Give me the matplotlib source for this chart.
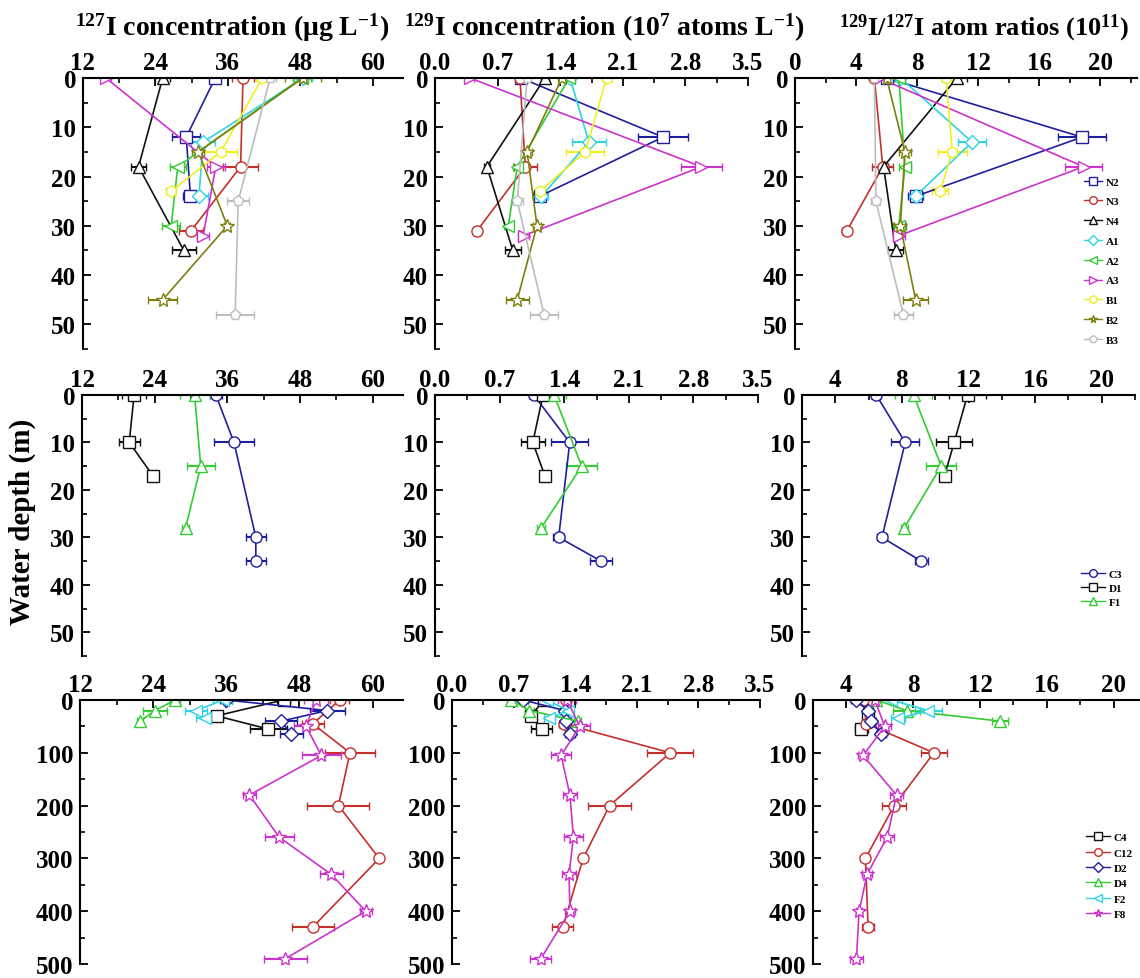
import matplotlib
matplotlib.use("Agg")
import matplotlib.pyplot as plt
from matplotlib.ticker import MultipleLocator
from matplotlib.lines import Line2D

plt.rcParams['font.family'] = 'Liberation Serif'
plt.rcParams['font.weight'] = 'bold'
plt.rcParams['mathtext.default'] = 'regular'

# ---- data ----
# each station: depth (m), 127I (ug/L), 129I (1e7 atoms/L), 129I/127I (1e11), with errors

# top row
N2_depth = [0, 12, 24]
N2_i127 = [33.9, 29.1, 29.8]
N2_i127_err = [0.8, 2.3, 1.3]
N2_i129 = [0.96, 2.55, 1.17]
N2_i129_err = [0.03, 0.28, 0.07]
N2_ratio = [6.0, 18.8, 7.9]
N2_ratio_err = [0.3, 1.6, 0.5]

N3_depth = [0, 18, 31]
N3_i127 = [38.5, 38.1, 29.9]
N3_i127_err = [1.9, 2.9, 2.0]
N3_i129 = [0.95, 1.01, 0.47]
N3_i129_err = [0.03, 0.13, 0.04]
N3_ratio = [5.2, 5.75, 3.4]
N3_ratio_err = [0.2, 0.7, 0.3]

N4_depth = [0, 18, 35]
N4_i127 = [25.2, 21.2, 28.7]
N4_i127_err = [1.2, 1.2, 2.0]
N4_i129 = [1.23, 0.58, 0.87]
N4_i129_err = [0.05, 0.03, 0.09]
N4_ratio = [10.6, 5.8, 6.6]
N4_ratio_err = [0.65, 0.3, 0.5]

A1_depth = [0, 13, 24]
A1_i127 = [48.5, 31.9, 31.2]
A1_i127_err = [1.5, 2.0, 1.5]
A1_i129 = [1.51, 1.72, 1.19]
A1_i129_err = [0.05, 0.19, 0.07]
A1_ratio = [6.9, 11.6, 7.9]
A1_ratio_err = [0.3, 0.9, 0.4]

A2_depth = [0, 18, 30]
A2_i127 = [48.2, 27.7, 26.6]
A2_i127_err = [1.5, 1.3, 1.5]
A2_i129 = [1.50, 0.92, 0.82]
A2_i129_err = [0.05, 0.05, 0.05]
A2_ratio = [6.8, 7.2, 6.8]
A2_ratio_err = [0.3, 0.4, 0.4]

A3_depth = [0, 18, 32]
A3_i127 = [15.8, 34.0, 31.9]
A3_i127_err = [0.8, 1.5, 1.0]
A3_i129 = [0.39, 2.98, 0.99]
A3_i129_err = [0.05, 0.23, 0.06]
A3_ratio = [5.5, 18.9, 6.8]
A3_ratio_err = [0.3, 1.2, 0.4]

B1_depth = [0, 15, 23]
B1_i127 = [41.7, 34.8, 26.6]
B1_i127_err = [1.0, 2.7, 0.8]
B1_i129 = [1.92, 1.68, 1.17]
B1_i129_err = [0.05, 0.21, 0.04]
B1_ratio = [9.9, 10.3, 9.5]
B1_ratio_err = [0.3, 0.96, 0.5]

B2_depth = [0, 15, 30, 45]
B2_i127 = [48.4, 31.1, 35.9, 25.2]
B2_i127_err = [3.0, 1.0, 0.5, 2.4]
B2_i129 = [1.42, 1.03, 1.14, 0.92]
B2_i129_err = [0.05, 0.05, 0.04, 0.13]
B2_ratio = [6.0, 7.2, 6.9, 7.9]
B2_ratio_err = [0.3, 0.4, 0.4, 0.8]

B3_depth = [0, 25, 48]
B3_i127 = [43.0, 37.7, 37.2]
B3_i127_err = [1.0, 1.8, 3.2]
B3_i129 = [1.03, 0.92, 1.22]
B3_i129_err = [0.03, 0.06, 0.16]
B3_ratio = [5.2, 5.3, 7.1]
B3_ratio_err = [0.2, 0.3, 0.6]

# middle row
C3_depth = [0, 10, 30, 35]
C3_i127 = [34.1, 37.1, 40.7, 40.7]
C3_i127_err = [1.0, 3.3, 1.6, 1.6]
C3_i129 = [1.07, 1.46, 1.34, 1.80]
C3_i129_err = [0.05, 0.20, 0.06, 0.12]
C3_ratio = [6.46, 8.2, 6.8, 9.16]
C3_ratio_err = [0.3, 0.84, 0.3, 0.4]

D1_depth = [0, 10, 17]
D1_i127 = [20.6, 19.8, 23.7]
D1_i127_err = [2.0, 1.7, 0.5]
D1_i129 = [1.17, 1.06, 1.19]
D1_i129_err = [0.05, 0.13, 0.04]
D1_ratio = [11.94, 11.14, 10.56]
D1_ratio_err = [1.1, 1.07, 0.3]

F1_depth = [0, 15, 28]
F1_i127 = [30.6, 31.6, 29.1]
F1_i127_err = [2.5, 2.3, 0.6]
F1_i129 = [1.29, 1.59, 1.15]
F1_i129_err = [0.13, 0.17, 0.04]
F1_ratio = [8.7, 10.36, 8.14]
F1_ratio_err = [1.09, 0.9, 0.2]

# bottom row
C4_depth = [0, 30, 55]
C4_i127 = [45.4, 34.4, 42.9]
C4_i127_err = [1.0, 1.0, 3.0]
C4_i129 = [1.04, 0.90, 1.02]
C4_i129_err = [0.05, 0.05, 0.12]
C4_ratio = [5.3, 5.3, 4.9]
C4_ratio_err = [0.3, 0.3, 0.4]

C12_depth = [0, 45, 100, 200, 300, 430]
C12_i127 = [54.6, 50.2, 56.3, 54.4, 61.1, 50.2]
C12_i127_err = [1.5, 1.8, 4.1, 5.1, 0.3, 3.4]
C12_i129 = [1.30, 1.27, 2.48, 1.79, 1.49, 1.26]
C12_i129_err = [0.05, 0.05, 0.26, 0.24, 0.04, 0.12]
C12_ratio = [5.0, 5.2, 9.24, 6.86, 5.14, 5.3]
C12_ratio_err = [0.2, 0.2, 0.8, 0.7, 0.1, 0.35]

D2_depth = [0, 20, 40, 65]
D2_i127 = [36.0, 52.6, 45.0, 46.7]
D2_i127_err = [1.0, 2.9, 2.6, 1.9]
D2_i129 = [0.81, 1.28, 1.30, 1.34]
D2_i129_err = [0.05, 0.05, 0.05, 0.06]
D2_ratio = [4.6, 5.3, 5.5, 6.1]
D2_ratio_err = [0.3, 0.3, 0.3, 0.3]

D4_depth = [0, 20, 40]
D4_i127 = [27.6, 24.3, 21.9]
D4_i127_err = [0.8, 2.0, 0.5]
D4_i129 = [0.67, 0.88, 1.43]
D4_i129_err = [0.05, 0.05, 0.04]
D4_ratio = [5.8, 7.6, 13.2]
D4_ratio_err = [0.3, 0.8, 0.5]

F2_depth = [0, 20, 35]
F2_i127 = [35.4, 31.1, 32.5]
F2_i127_err = [1.5, 1.8, 1.5]
F2_i129 = [1.08, 1.32, 1.10]
F2_i129_err = [0.06, 0.06, 0.06]
F2_ratio = [6.7, 8.9, 7.1]
F2_ratio_err = [0.6, 0.8, 0.4]

F8_depth = [0, 50, 105, 180, 260, 330, 400, 490]
F8_i127 = [50.7, 49.1, 51.6, 39.8, 44.7, 53.2, 58.9, 45.7]
F8_i127_err = [2.0, 2.0, 3.2, 1.0, 2.4, 1.9, 1.0, 3.5]
F8_i129 = [1.31, 1.45, 1.24, 1.34, 1.38, 1.33, 1.34, 1.01]
F8_i129_err = [0.10, 0.12, 0.11, 0.08, 0.11, 0.08, 0.06, 0.12]
F8_ratio = [5.7, 6.3, 5.0, 7.0, 6.44, 5.24, 4.76, 4.6]
F8_ratio_err = [0.3, 0.4, 0.3, 0.4, 0.4, 0.3, 0.2, 0.4]

# ---- styles ----
BLUE = '#1f1f9e'
RED = '#c4302b'
BLACK = '#111111'
CYAN = '#2fd3e3'
GREEN = '#33cc33'
MAGENTA = '#cc33cc'
YELLOW = '#eeee22'
OLIVE = '#7f7f10'
GRAY = '#bdbdbd'

rows = [
    [('N2', BLUE, 's'), ('N3', RED, 'o'), ('N4', BLACK, '^'), ('A1', CYAN, 'D'),
     ('A2', GREEN, '<'), ('A3', MAGENTA, '>'), ('B1', YELLOW, 'h'), ('B2', OLIVE, '*'),
     ('B3', GRAY, 'p')],
    [('C3', BLUE, 'o'), ('D1', BLACK, 's'), ('F1', GREEN, '^')],
    [('C4', BLACK, 's'), ('C12', RED, 'o'), ('D2', BLUE, 'D'), ('D4', GREEN, '^'),
     ('F2', CYAN, '<'), ('F8', MAGENTA, '*')],
]
variables = ['i127', 'i129', 'ratio']

W, H = 1140, 979
# axes boxes in pixels: (left, right, top, bottom)
row_y = [(79, 350), (396, 657), (701, 965)]
col_x = [
    [(83, 403), (435, 748), (795, 1137)],
    [(82, 403), (435, 758), (802, 1135)],
    [(80, 403), (452, 760), (813, 1147)],
]
xlims = [
    [(12, 65), (0, 3.5), (0, 22.4)],
    [(12, 65), (0, 3.5), (2, 22)],
    [(12, 65), (0, 3.5), (2, 22)],
]
xmajor = [12, 0.7, 4]
ylims = [55, 55, 500]
ymajor = [10, 10, 100]

# legend placement (axes fraction of lower-left corner, spacing, handle length)
legend_opts = [((0.83, -0.005), 0.9, 1.6), ((0.82, 0.165), 0.4, 2.2), ((0.80, 0.15), 0.5, 2.2)]

fig = plt.figure(figsize=(W / 100, H / 100), dpi=100)

for r in range(3):
    t, b = row_y[r]
    for c in range(3):
        l, rr = col_x[r][c]
        ax = fig.add_axes([l / W, 1 - b / H, (rr - l) / W, (b - t) / H])
        for name, color, mk in rows[r]:
            depth = globals()[name + '_depth']
            vals = globals()[name + '_' + variables[c]]
            errs = globals()[name + '_' + variables[c] + '_err']
            ms = 10 if mk == '*' else (7 if mk == 'D' else 8)
            ax.errorbar(vals, depth, xerr=errs, color=color, marker=mk, ms=ms,
                        mfc='white', mec=color, mew=1.0, lw=1.2,
                        elinewidth=1.5, capsize=3, capthick=1.5)
        ax.set_xlim(*xlims[r][c])
        ax.set_ylim(ylims[r], 0)
        ax.xaxis.tick_top()
        ax.xaxis.set_major_locator(MultipleLocator(xmajor[c]))
        ax.xaxis.set_minor_locator(MultipleLocator(xmajor[c] / 2))
        ax.yaxis.set_major_locator(MultipleLocator(ymajor[r]))
        ax.yaxis.set_minor_locator(MultipleLocator(ymajor[r] / 2))
        if c == 1:
            ax.xaxis.set_major_formatter(plt.FormatStrFormatter('%.1f'))
        ax.spines['right'].set_visible(False)
        ax.spines['bottom'].set_visible(False)
        for s in ('left', 'top'):
            ax.spines[s].set_linewidth(1.5)
        ax.tick_params(which='major', direction='in', length=6, width=1.3,
                       labelsize=18, top=True, bottom=False, right=False)
        ax.tick_params(which='minor', direction='in', length=3.5, width=1.2,
                       top=True, bottom=False, right=False)
        ax.tick_params(axis='x', pad=3)
        ax.tick_params(axis='y', pad=5)
        for lab in ax.get_xticklabels() + ax.get_yticklabels():
            lab.set_fontweight('bold')
        ax.patch.set_alpha(0)

        if c == 2:
            handles = [Line2D([], [], color=col, marker=mk, mfc='white', mec=col,
                              ms=5.5, lw=1.0) for _, col, mk in rows[r]]
            labels = [n for n, _, _ in rows[r]]
            loc, sp, hl = legend_opts[r]
            leg = ax.legend(handles, labels, loc='lower left', bbox_to_anchor=loc,
                            frameon=False, fontsize=8, labelspacing=sp,
                            handlelength=hl, handletextpad=0.3, borderpad=0)
            for txt in leg.get_texts():
                txt.set_fontweight('bold')

# column titles
title_kw = dict(ha='center', va='center', fontsize=20, fontweight='bold')
fig.text(232 / W, 1 - 28 / H, r'$^{127}$I concentration (μg L$^{-1}$)', **title_kw)
fig.text(604 / W, 1 - 28 / H, r'$^{129}$I concentration (10$^{7}$ atoms L$^{-1}$)', **title_kw)
fig.text(984 / W, 1 - 28 / H, r'$^{129}$I/$^{127}$I atom ratios (10$^{11}$)',
         ha='center', va='center', fontsize=19, fontweight='bold')

fig.text(22 / W, 1 - 522 / H, 'Water depth (m)', rotation=90,
         ha='center', va='center', fontsize=21, fontweight='bold')

fig.savefig('out.png', dpi=100)
